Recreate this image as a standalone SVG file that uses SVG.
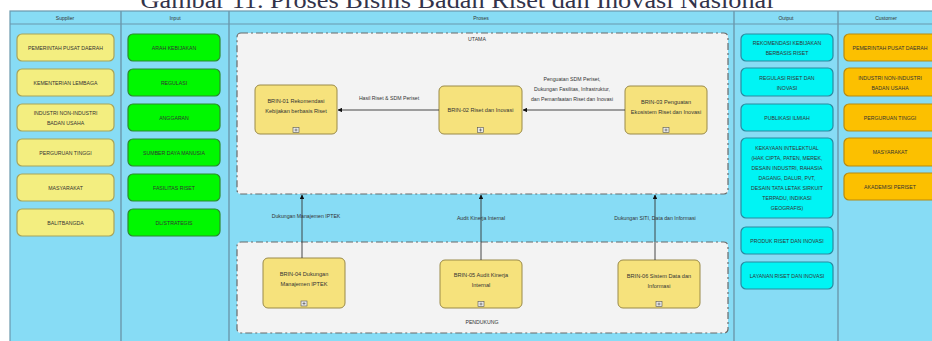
<svg xmlns="http://www.w3.org/2000/svg" width="932" height="341" viewBox="0 0 932 341">
<defs>
<style>
.lane{fill:#87dcf5;stroke:#6a98ad;stroke-width:1.2}
.hdr{font-family:"Liberation Sans",Arial,sans-serif;font-size:5px;fill:#333;text-anchor:middle}
.t{font-family:"Liberation Sans",Arial,sans-serif;font-size:5.2px;fill:#333;text-anchor:middle}
.pt{font-family:"Liberation Sans",Arial,sans-serif;font-size:5.6px;fill:#333;text-anchor:middle}
.lbl{font-family:"Liberation Sans",Arial,sans-serif;font-size:5.2px;fill:#333;text-anchor:middle}
.sup{fill:#f3ee80;stroke:#a8a35a;stroke-width:1.2}
.inp{fill:#00f800;stroke:#2c8a2c;stroke-width:1.2}
.out{fill:#00f4f4;stroke:#2a8aa0;stroke-width:1.2}
.cus{fill:#fcc000;stroke:#b88a10;stroke-width:1.2}
.proc{fill:#f6e27c;stroke:#9a8a48;stroke-width:1}
.cont{fill:#f3f3f3;stroke:#6a6a6a;stroke-width:1.2;stroke-dasharray:7 3 2 3}
.icon{fill:#e8e8e8;stroke:#555;stroke-width:0.6}
.conn{stroke:#333;stroke-width:0.9;fill:none}
</style>
<marker id="arr" viewBox="0 0 10 10" refX="9" refY="5" markerWidth="5" markerHeight="5" orient="auto">
<path d="M0,0 L10,5 L0,10 z" fill="#111"/>
</marker>
</defs>
<rect width="932" height="341" fill="#ffffff"/>
<text x="457" y="8" font-family="'Liberation Serif','Times New Roman',serif" font-size="24" fill="#33334a" text-anchor="middle" textLength="633" lengthAdjust="spacingAndGlyphs">Gambar 11. Proses Bisnis Badan Riset dan Inovasi Nasional</text>

<g id="lanes">
<rect class="lane" x="10" y="11" width="930" height="340"/>
<line x1="10" y1="24" x2="932" y2="24" stroke="#6a98ad" stroke-width="1.2"/>
<line x1="121" y1="11" x2="121" y2="341" stroke="#6a98ad" stroke-width="1.4"/>
<line x1="229" y1="11" x2="229" y2="341" stroke="#6a98ad" stroke-width="1.4"/>
<line x1="734" y1="11" x2="734" y2="341" stroke="#6a98ad" stroke-width="1.4"/>
<line x1="838" y1="11" x2="838" y2="341" stroke="#6a98ad" stroke-width="1.4"/>
<text class="hdr" x="65" y="19.5">Supplier</text>
<text class="hdr" x="175" y="19.5">Input</text>
<text class="hdr" x="481" y="19.5">Proses</text>
<text class="hdr" x="786" y="19.5">Output</text>
<text class="hdr" x="886" y="19.5">Customer</text>
</g>

<g id="utama">
<rect class="cont" x="237" y="33" width="491" height="161" rx="4"/>
<text class="lbl" x="477" y="41">UTAMA</text>
</g>
<g id="pendukung">
<rect class="cont" x="237" y="242" width="491" height="91" rx="4"/>
<text class="lbl" x="482" y="324">PENDUKUNG</text>
</g>

<g id="supplier-1"><rect class="sup" x="17" y="34" width="97" height="27" rx="5"/><text class="t" x="65.5" y="49.5">PEMERINTAH PUSAT DAERAH</text></g>
<g id="supplier-2"><rect class="sup" x="17" y="69" width="97" height="27" rx="5"/><text class="t" x="65.5" y="84.5">KEMENTERIAN LEMBAGA</text></g>
<g id="supplier-3"><rect class="sup" x="17" y="104" width="97" height="27" rx="5"/><text class="t" x="65.5" y="115">INDUSTRI NON-INDUSTRI</text><text class="t" x="65.5" y="125">BADAN USAHA</text></g>
<g id="supplier-4"><rect class="sup" x="17" y="139" width="97" height="27" rx="5"/><text class="t" x="65.5" y="154.5">PERGURUAN TINGGI</text></g>
<g id="supplier-5"><rect class="sup" x="17" y="174" width="97" height="27" rx="5"/><text class="t" x="65.5" y="189.5">MASYARAKAT</text></g>
<g id="supplier-6"><rect class="sup" x="17" y="209" width="97" height="27" rx="5"/><text class="t" x="65.5" y="224.5">BALITBANGDA</text></g>

<g id="input-1"><rect class="inp" x="128" y="34" width="92" height="27" rx="5"/><text class="t" x="174" y="49.5">ARAH KEBIJAKAN</text></g>
<g id="input-2"><rect class="inp" x="128" y="69" width="92" height="27" rx="5"/><text class="t" x="174" y="84.5">REGULASI</text></g>
<g id="input-3"><rect class="inp" x="128" y="104" width="92" height="27" rx="5"/><text class="t" x="174" y="119.5">ANGGARAN</text></g>
<g id="input-4"><rect class="inp" x="128" y="139" width="92" height="27" rx="5"/><text class="t" x="174" y="154.5">SUMBER DAYA MANUSIA</text></g>
<g id="input-5"><rect class="inp" x="128" y="174" width="92" height="27" rx="5"/><text class="t" x="174" y="189.5">FASILITAS RISET</text></g>
<g id="input-6"><rect class="inp" x="128" y="209" width="92" height="27" rx="5"/><text class="t" x="174" y="224.5">DL/STRATEGIS</text></g>

<g id="output-1"><rect class="out" x="741" y="34" width="92" height="27" rx="5"/><text class="t" x="787" y="45">REKOMENDASI KEBIJAKAN</text><text class="t" x="787" y="55">BERBASIS RISET</text></g>
<g id="output-2"><rect class="out" x="741" y="68" width="92" height="28" rx="5"/><text class="t" x="787" y="79.5">REGULASI RISET DAN</text><text class="t" x="787" y="89.5">INOVASI</text></g>
<g id="output-3"><rect class="out" x="741" y="104" width="92" height="27" rx="5"/><text class="t" x="787" y="119.5">PUBLIKASI ILMIAH</text></g>
<g id="output-4"><rect class="out" x="741" y="138" width="92" height="80" rx="5"/>
<text class="t" x="787" y="150">KEKAYAAN INTELEKTUAL</text>
<text class="t" x="787" y="160">(HAK CIPTA, PATEN, MEREK,</text>
<text class="t" x="787" y="170">DESAIN INDUSTRI, RAHASIA</text>
<text class="t" x="787" y="180">DAGANG, DALUR, PVT,</text>
<text class="t" x="787" y="190">DESAIN TATA LETAK SIRKUIT</text>
<text class="t" x="787" y="200">TERPADU, INDIKASI</text>
<text class="t" x="787" y="210">GEOGRAFIS)</text></g>
<g id="output-5"><rect class="out" x="741" y="227" width="92" height="27" rx="5"/><text class="t" x="787" y="242.5">PRODUK RISET DAN INOVASI</text></g>
<g id="output-6"><rect class="out" x="741" y="262" width="92" height="27" rx="5"/><text class="t" x="787" y="277.5">LAYANAN RISET DAN INOVASI</text></g>

<g id="customer-1"><rect class="cus" x="844" y="34" width="96" height="27" rx="5"/><text class="t" x="890" y="49.5">PEMERINTAH PUSAT DAERAH</text></g>
<g id="customer-2"><rect class="cus" x="844" y="68" width="96" height="28" rx="5"/><text class="t" x="890" y="79.5">INDUSTRI NON-INDUSTRI</text><text class="t" x="890" y="89.5">BADAN USAHA</text></g>
<g id="customer-3"><rect class="cus" x="844" y="104" width="96" height="27" rx="5"/><text class="t" x="890" y="119.5">PERGURUAN TINGGI</text></g>
<g id="customer-4"><rect class="cus" x="844" y="138" width="96" height="28" rx="5"/><text class="t" x="890" y="154">MASYARAKAT</text></g>
<g id="customer-5"><rect class="cus" x="844" y="173" width="96" height="27" rx="5"/><text class="t" x="890" y="188.5">AKADEMISI PERISET</text></g>

<g id="brin-01"><rect class="proc" x="255" y="85" width="82" height="49" rx="5"/><text class="pt" x="296" y="103">BRIN-01 Rekomendasi</text><text class="pt" x="296" y="113">Kebijakan berbasis Riset</text><rect class="icon" x="293" y="127.5" width="6" height="5"/><path d="M294.5,130 h3 M296,128.5 v3" stroke="#333" stroke-width="0.5"/></g>
<g id="brin-02"><rect class="proc" x="439" y="86" width="83" height="48" rx="5"/><text class="pt" x="480.5" y="112">BRIN-02 Riset dan Inovasi</text><rect class="icon" x="477.5" y="127.5" width="6" height="5"/><path d="M479,130 h3 M480.5,128.5 v3" stroke="#333" stroke-width="0.5"/></g>
<g id="brin-03"><rect class="proc" x="625" y="86" width="82" height="48" rx="5"/><text class="pt" x="666" y="104">BRIN-03 Penguatan</text><text class="pt" x="666" y="114">Ekosistem Riset dan Inovasi</text><rect class="icon" x="663" y="127.5" width="6" height="5"/><path d="M664.5,130 h3 M666,128.5 v3" stroke="#333" stroke-width="0.5"/></g>
<g id="brin-04"><rect class="proc" x="263" y="258" width="82" height="50" rx="5"/><text class="pt" x="304" y="276">BRIN-04 Dukungan</text><text class="pt" x="304" y="286">Manajemen IPTEK</text><rect class="icon" x="301" y="301" width="6" height="5"/><path d="M302.5,303.5 h3 M304,302 v3" stroke="#333" stroke-width="0.5"/></g>
<g id="brin-05"><rect class="proc" x="440" y="260" width="82" height="48" rx="5"/><text class="pt" x="481" y="277">BRIN-05 Audit Kinerja</text><text class="pt" x="481" y="287">Internal</text><rect class="icon" x="478" y="301.5" width="6" height="5"/><path d="M479.5,304 h3 M481,302.5 v3" stroke="#333" stroke-width="0.5"/></g>
<g id="brin-06"><rect class="proc" x="618" y="260" width="82" height="48" rx="5"/><text class="pt" x="659" y="278">BRIN-06 Sistem Data dan</text><text class="pt" x="659" y="288">Informasi</text><rect class="icon" x="656" y="301.5" width="6" height="5"/><path d="M657.5,304 h3 M659,302.5 v3" stroke="#333" stroke-width="0.5"/></g>

<g id="connectors">
<line class="conn" x1="625" y1="110" x2="523" y2="110" marker-end="url(#arr)"/>
<text class="lbl" x="572" y="81">Penguatan SDM Periset,</text>
<text class="lbl" x="572" y="91">Dukungan Fasilitas, Infrastruktur,</text>
<text class="lbl" x="572" y="101">dan Pemanfaatan Riset dan Inovasi</text>
<line class="conn" x1="439" y1="110" x2="338" y2="110" marker-end="url(#arr)"/>
<text class="lbl" x="389" y="100">Hasil Riset &amp; SDM Periset</text>
<line class="conn" x1="302" y1="258" x2="302" y2="195" marker-end="url(#arr)"/>
<text class="lbl" x="306" y="218">Dukungan Manajemen IPTEK</text>
<line class="conn" x1="481" y1="260" x2="481" y2="195" marker-end="url(#arr)"/>
<text class="lbl" x="481" y="220">Audit Kinerja Internal</text>
<line class="conn" x1="655" y1="260" x2="655" y2="195" marker-end="url(#arr)"/>
<text class="lbl" x="655" y="220">Dukungan SITI, Data dan Informasi</text>
</g>
</svg>
